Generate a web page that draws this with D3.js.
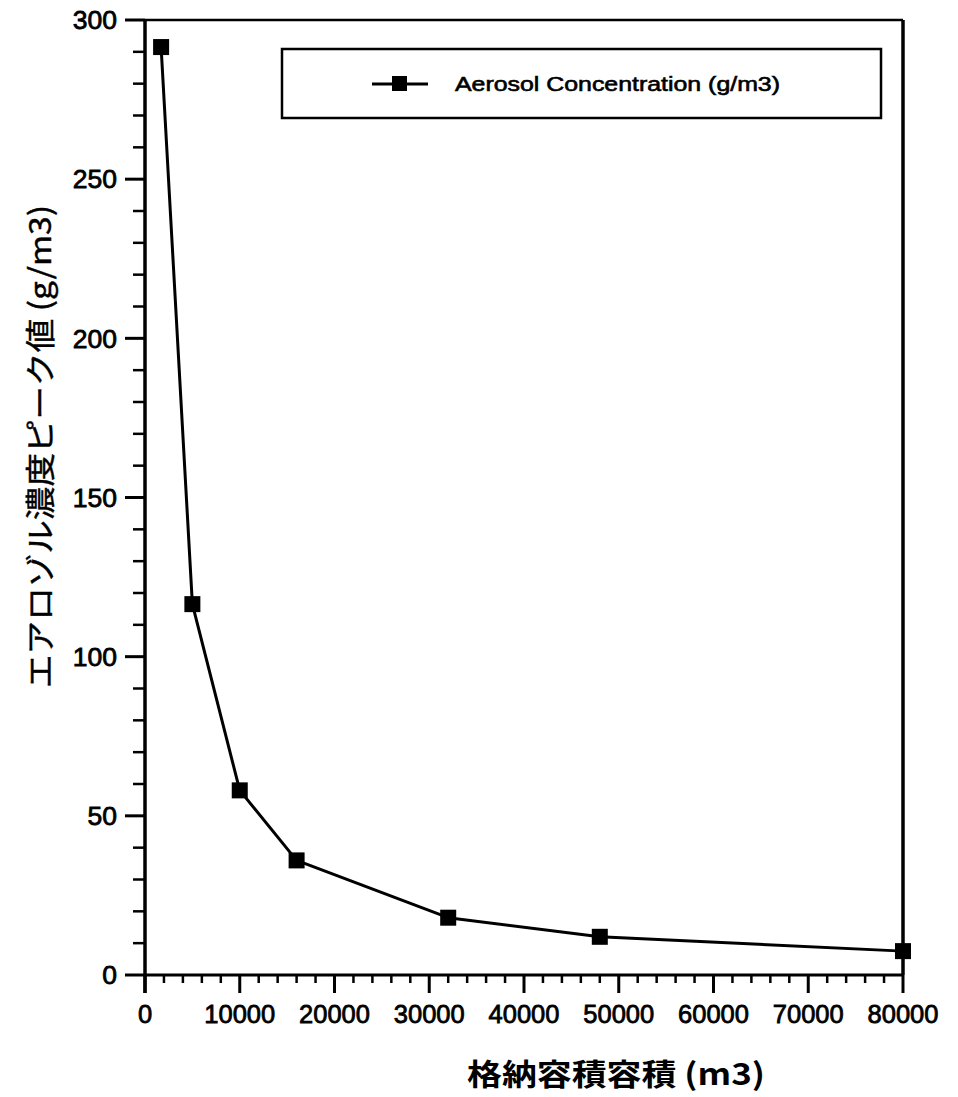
<!DOCTYPE html>
<html>
<head>
<meta charset="utf-8">
<script src="https://cdn.jsdelivr.net/npm/d3@7/dist/d3.min.js"></script>
<style>
  html, body { margin: 0; padding: 0; background: #fff; }
  svg { display: block; }
  .tick-label { font-family: "Liberation Sans", Arial, sans-serif; fill: #000; stroke: #000; stroke-width: 0.8px; }
</style>
</head>
<body>
<svg id="chart" width="958" height="1097"></svg>
<script>
// Storage volume (m3) vs. peak aerosol concentration (g/m3)
const volumes = [1700, 5000, 10000, 16000, 32000, 48000, 80000];
const concentrations = [291.5, 116.5, 58, 36, 18, 12, 7.5];
const xTickValues = [0, 10000, 20000, 30000, 40000, 50000, 60000, 70000, 80000];
const yTickValues = [0, 50, 100, 150, 200, 250, 300];
const seriesName = "Aerosol Concentration (g/m3)";
const xTitle = "格納容積容積 (m3)";
const yTitle = "エアロゾル濃度ピーク値 (g/m3)";

const svg = d3.select("#chart");
const plotLeft = 145, plotRight = 903, plotTop = 20, plotBottom = 975;

const x = d3.scaleLinear().domain([0, 80000]).range([plotLeft, plotRight]);
const y = d3.scaleLinear().domain([0, 300]).range([plotBottom, plotTop]);

// frame: top and right borders
svg.append("line").attr("x1", plotLeft).attr("x2", plotRight).attr("y1", plotTop).attr("y2", plotTop)
  .attr("stroke", "#000").attr("stroke-width", 2.5);
svg.append("line").attr("x1", plotRight).attr("x2", plotRight).attr("y1", plotTop).attr("y2", plotBottom)
  .attr("stroke", "#000").attr("stroke-width", 3.5);

// x axis
const xAxisG = svg.append("g");
xAxisG.append("line").attr("x1", plotLeft).attr("x2", plotRight).attr("y1", plotBottom).attr("y2", plotBottom)
  .attr("stroke", "#000").attr("stroke-width", 3);
const xMinor = d3.range(0, 80001, 2000).filter(v => v % 10000 !== 0);
xAxisG.selectAll(".xminor").data(xMinor).join("line")
  .attr("x1", d => x(d)).attr("x2", d => x(d))
  .attr("y1", plotBottom).attr("y2", plotBottom + 8)
  .attr("stroke", "#000").attr("stroke-width", 2.5);
xAxisG.selectAll(".xmajor").data(xTickValues).join("line")
  .attr("x1", d => x(d)).attr("x2", d => x(d))
  .attr("y1", plotBottom).attr("y2", plotBottom + 18)
  .attr("stroke", "#000").attr("stroke-width", 3);
xAxisG.selectAll(".xlab").data(xTickValues).join("text")
  .attr("class", "tick-label")
  .attr("font-size", 25.5)
  .attr("x", d => x(d)).attr("y", 1023)
  .attr("text-anchor", "middle")
  .text(d => d3.format("d")(d));

// y axis
const yAxisG = svg.append("g");
yAxisG.append("line").attr("x1", plotLeft).attr("x2", plotLeft).attr("y1", plotTop).attr("y2", plotBottom + 18)
  .attr("stroke", "#000").attr("stroke-width", 3.5);
const yMinor = d3.range(0, 301, 10).filter(v => v % 50 !== 0);
yAxisG.selectAll(".yminor").data(yMinor).join("line")
  .attr("x1", plotLeft - 12).attr("x2", plotLeft)
  .attr("y1", d => y(d)).attr("y2", d => y(d))
  .attr("stroke", "#000").attr("stroke-width", 2.5);
yAxisG.selectAll(".ymajor").data(yTickValues).join("line")
  .attr("x1", plotLeft - 20).attr("x2", plotLeft)
  .attr("y1", d => y(d)).attr("y2", d => y(d))
  .attr("stroke", "#000").attr("stroke-width", 3);
yAxisG.selectAll(".ylab").data(yTickValues).join("text")
  .attr("class", "tick-label")
  .attr("font-size", 26.5)
  .attr("x", 117).attr("y", d => y(d))
  .attr("dy", "0.35em")
  .attr("text-anchor", "end")
  .text(d => d);

// series line and markers
const pts = volumes.map((v, i) => [v, concentrations[i]]);
svg.append("path")
  .attr("d", d3.line().x(d => x(d[0])).y(d => y(d[1]))(pts))
  .attr("fill", "none").attr("stroke", "#000").attr("stroke-width", 3)
  .attr("stroke-linejoin", "round");
const ms = 16;
svg.selectAll(".marker").data(pts).join("rect")
  .attr("x", d => x(d[0]) - ms / 2).attr("y", d => y(d[1]) - ms / 2)
  .attr("width", ms).attr("height", ms).attr("fill", "#000");

// legend
const lg = svg.append("g");
lg.append("rect").attr("x", 282).attr("y", 49).attr("width", 599).attr("height", 69)
  .attr("fill", "#fff").attr("stroke", "#000").attr("stroke-width", 2.5);
lg.append("line").attr("x1", 372).attr("x2", 428).attr("y1", 84).attr("y2", 84)
  .attr("stroke", "#000").attr("stroke-width", 3);
lg.append("rect").attr("x", 392).attr("y", 76).attr("width", 15).attr("height", 15).attr("fill", "#000");
lg.append("text")
  .attr("x", 455).attr("y", 91)
  .attr("font-family", "Liberation Sans, Arial, sans-serif").attr("font-size", 20)
  .attr("textLength", 325).attr("lengthAdjust", "spacingAndGlyphs")
  .attr("fill", "#000").attr("stroke", "#000").attr("stroke-width", 0.6)
  .text(seriesName);

// axis titles
svg.append("text")
  .attr("x", 467).attr("y", 1085)
  .attr("font-family", "Noto Sans CJK JP, sans-serif").attr("font-size", 30).attr("font-weight", 700)
  .attr("textLength", 298).attr("lengthAdjust", "spacingAndGlyphs")
  .attr("fill", "#000")
  .text(xTitle);

svg.append("text")
  .attr("transform", "translate(51,688) rotate(-90)")
  .attr("x", 0).attr("y", 0)
  .attr("font-family", "Noto Sans CJK JP, sans-serif").attr("font-size", 30).attr("font-weight", 400)
  .attr("textLength", 483).attr("lengthAdjust", "spacingAndGlyphs")
  .attr("fill", "#000").attr("stroke", "#000").attr("stroke-width", 0.4)
  .text(yTitle);
</script>
</body>
</html>
